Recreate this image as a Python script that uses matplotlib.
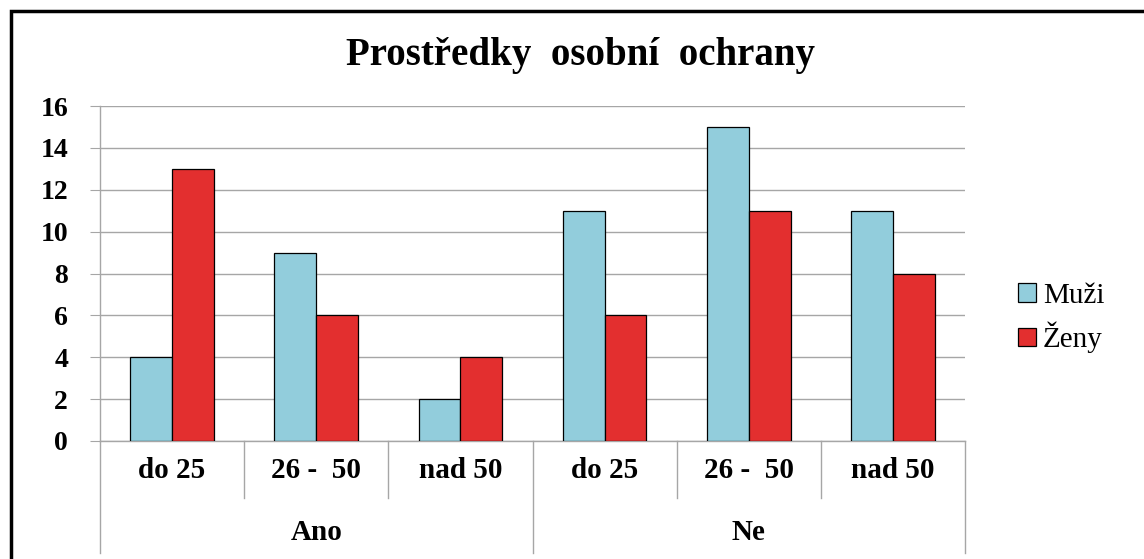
import matplotlib.pyplot as plt
import matplotlib.patches as patches
import numpy as np

# data
categories = ["do 25", "26 -  50", "nad 50", "do 25", "26 -  50", "nad 50"]
groups = ["Ano", "Ne"]
muzi = [4, 9, 2, 11, 15, 11]
zeny = [13, 6, 4, 6, 11, 8]

blue = "#92CDDC"
red = "#E32F2F"
grid_col = "#A6A6A6"

plt.rcParams['font.family'] = ['Liberation Serif', 'DejaVu Serif']

fig = plt.figure(figsize=(11.44, 5.59), dpi=100)
ax = fig.add_axes([100/1144, 1 - 441/559, 865/1144, 335/559])

x = np.arange(len(categories))
w = 0.29
ax.bar(x - w/2, muzi, w, color=blue, edgecolor="black", linewidth=0.9, label="Muži", zorder=3)
ax.bar(x + w/2, zeny, w, color=red, edgecolor="black", linewidth=0.9, label="Ženy", zorder=3)

ax.set_xlim(-0.5, len(categories) - 0.5)
ax.set_ylim(0, 16)
ax.set_yticks(range(0, 17, 2))
ax.set_yticklabels([str(v) for v in range(0, 17, 2)], fontsize=20, fontweight="bold")
ax.yaxis.grid(True, color=grid_col, linewidth=1, zorder=0)
ax.set_xticks([])
ax.tick_params(axis="y", length=7, color=grid_col, pad=16)
for s in ["top", "right"]:
    ax.spines[s].set_visible(False)
for s in ["left", "bottom"]:
    ax.spines[s].set_color(grid_col)
    ax.spines[s].set_linewidth(1)

tr = ax.get_xaxis_transform()
for i, c in enumerate(categories):
    ax.text(i, -0.088, c, transform=tr, ha="center", va="center",
            fontsize=21, fontweight="bold")
n_per = len(categories) // len(groups)
for b in range(len(categories) + 1):
    bottom = -0.335 if b % n_per == 0 else -0.17
    ax.plot([b - 0.5, b - 0.5], [0, bottom], transform=tr, color=grid_col,
            linewidth=1, clip_on=False)
for g, name in enumerate(groups):
    ax.text(g * n_per + (n_per - 1) / 2, -0.272, name, transform=tr,
            ha="center", va="center", fontsize=21, fontweight="bold")

fig.text(0.507, 1 - 55/559, "Prostředky  osobní  ochrany", ha="center", va="center",
         fontsize=28, fontweight="bold")

leg = fig.legend(loc="center left", bbox_to_anchor=(992/1144, 1 - 318/559),
                 frameon=False, fontsize=21, handlelength=0.6, handleheight=0.6,
                 handletextpad=0.25, labelspacing=0.45)

fig.patches.append(patches.Rectangle((11/1144, -0.1), 1.2, 1 - 11/559 + 0.1,
                                     transform=fig.transFigure, fill=False,
                                     edgecolor="black", linewidth=2.5))

fig.savefig("out.png", dpi=100)
